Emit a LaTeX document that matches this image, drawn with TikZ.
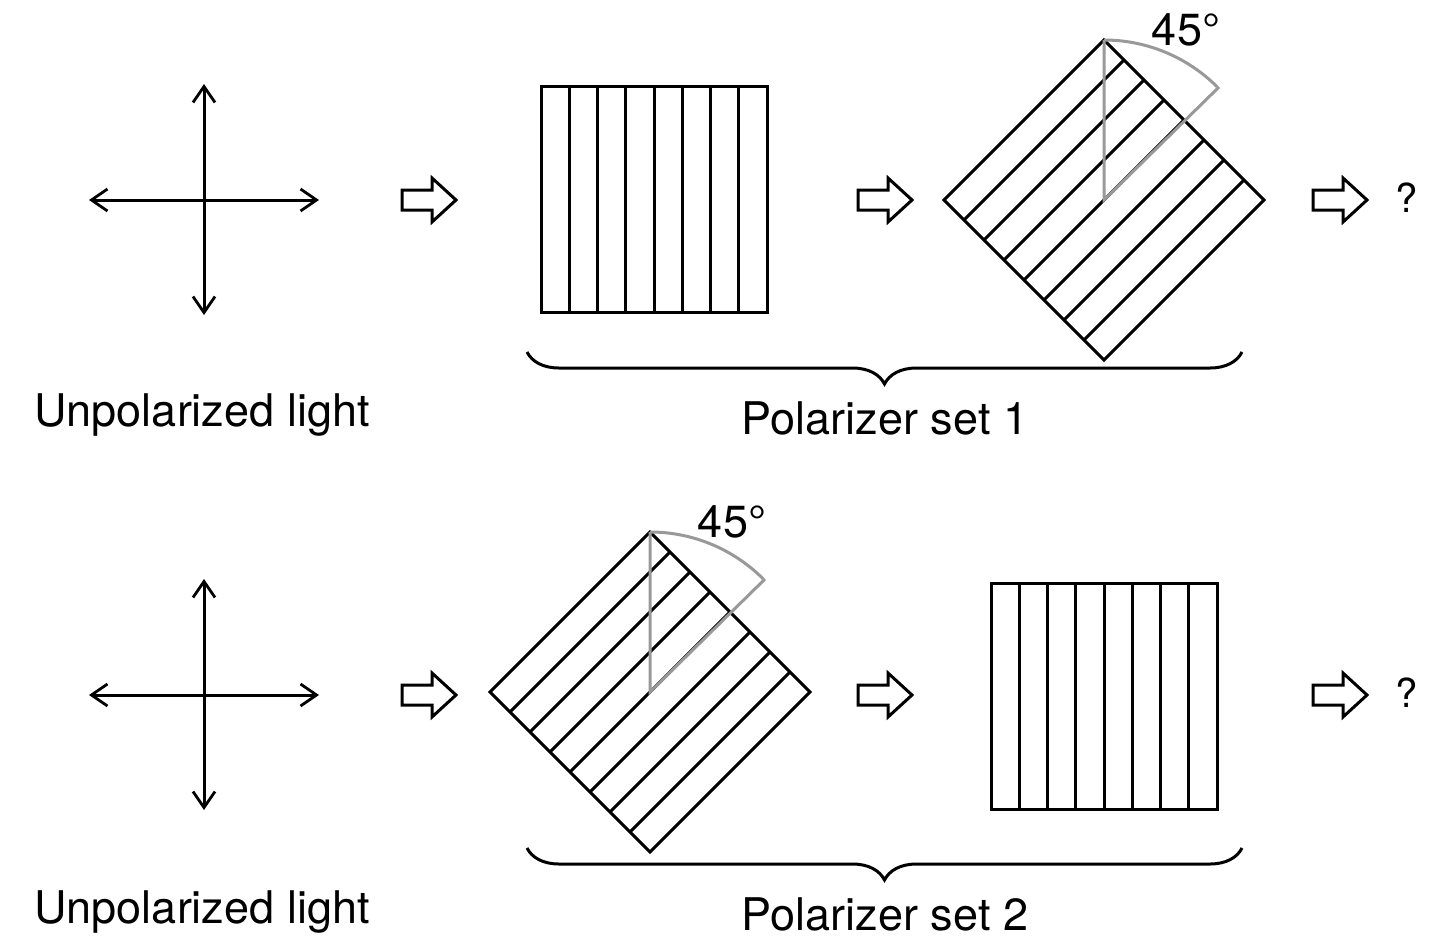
\documentclass[tikz,border=0pt]{standalone}
\usepackage{fontspec}
\setmainfont{TeX Gyre Heros}
\usetikzlibrary{arrows.meta,decorations.pathreplacing}
\begin{document}
\begin{tikzpicture}[x=1pt,y=-1pt,
  ln/.style={line width=3pt},
  dbl/.style={ln,{Straight Barb[length=16pt,width=22pt,line width=2.8pt]}-{Straight Barb[length=16pt,width=22pt,line width=2.8pt]}},
  gr/.style={line width=3pt,draw=black!40},
  lbl/.style={font=\fontsize{45}{50}\selectfont,inner sep=0pt},
  q/.style={font=\fontsize{40}{44}\selectfont,inner sep=0pt},
  brc/.style={ln,decorate,decoration={brace,amplitude=32pt}}]
\useasboundingbox (0,0) rectangle (1453,948);
\newcommand{\cross}[2]{%
  \draw[dbl] (#1-115,#2) -- (#1+115,#2);
  \draw[dbl] (#1,#2-116) -- (#1,#2+115);}
\newcommand{\barrow}[2]{%
  \draw[line width=3pt,line join=miter] (#1,#2-10) -- (#1+30,#2-10) -- (#1+30,#2-22) -- (#1+54,#2) -- (#1+30,#2+22) -- (#1+30,#2+10) -- (#1,#2+10) -- cycle;}
\newcommand{\sq}[2]{%
  \draw[ln] (#1,#2) rectangle (#1+226,#2+226);
  \foreach \i in {1,...,7} \draw[ln] ({#1+\i*226/8},#2) -- ({#1+\i*226/8},#2+226);}
\newcommand{\dia}[2]{%
  \draw[ln] (#1,#2-160) -- (#1+160,#2) -- (#1,#2+160) -- (#1-160,#2) -- cycle;
  \foreach \i in {1,...,7} \draw[ln] ({#1-160+\i*20},{#2+\i*20}) -- ({#1+\i*20},{#2-160+\i*20});
  \draw[gr] (#1,#2-160) -- (#1,#2) -- (#1+115,#2-113);
  \draw[gr] (#1,#2-160) arc[start angle=-90,end angle=-45,radius=160];
  \node[lbl] at (#1+82,#2-170) {45°};}
% row 1
\cross{204}{200}
\barrow{402}{200}
\sq{541}{86}
\barrow{858}{200}
\dia{1104}{200}
\barrow{1313}{200}
\node[q] (q1) at (1407,198) {?};
\draw[brc] (1242,352) -- (527,352);
\node[lbl] (u1) at (202,415) {Unpolarized light};
\node[lbl] (p1) at (885,418) {Polarizer set 1};
% row 2
\cross{204}{695}
\barrow{402}{695}
\dia{650}{692}
\barrow{858}{695}
\sq{991}{583}
\barrow{1313}{695}
\node[q] (q2) at (1407,693) {?};
\draw[brc] (1242,848) -- (527,848);
\node[lbl] (u2) at (202,912) {Unpolarized light};
\node[lbl] (p2) at (885,914) {Polarizer set 2};
\end{tikzpicture}
\end{document}
